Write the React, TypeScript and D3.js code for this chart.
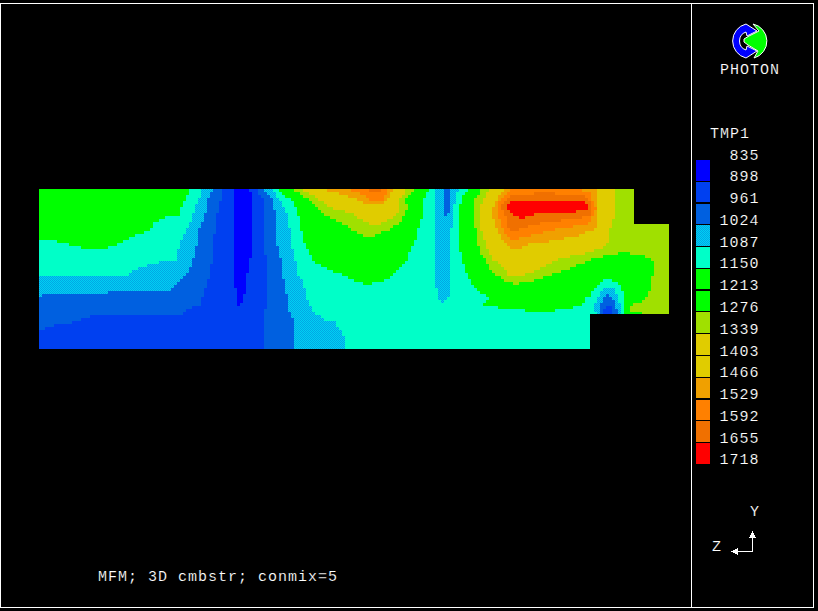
import React from "react";
import * as d3 from "d3";

const legendLevels = [835, 898, 961, 1024, 1087, 1150, 1213, 1276, 1339, 1403, 1466, 1529, 1592, 1655, 1718];
const bandColors = ["#0000ff", "#0040f0", "#0060e0", "url(#dither)", "#00ffc8", "#00ff00", "#00ff00", "#a0e000", "#e0cc00", "#e0cc00", "#f0a000", "#ff8000", "#f07000", "#ff0000"];

type Knot = [number, number];
// Temperature profiles along the chamber: [axial position, temperature]
const row189: Knot[] = [[39,1200],[195,1150],[203,1087],[213,1024],[222,961],[233,898],[245,850],[250,898],[258,961],[264,1024],[273,1087],[278,1150],[292,1276],[301,1339],[323,1466],[345,1529],[368,1592],[375,1625],[383,1592],[388,1529],[393,1466],[407,1339],[415,1276],[429,1150],[435,1087],[443,1024],[447,1000],[451,1024],[459,1087],[468,1150],[481,1276],[490,1339],[505,1466],[512,1529],[545,1575],[576,1529],[596,1466],[614,1339],[634,1300],[669,1300]];
const row200: Knot[] = [[39,1200],[187,1150],[198,1087],[208,1024],[221,961],[233,898],[243,850],[253,898],[263,961],[273,1024],[280,1087],[292,1150],[310,1276],[318,1339],[358,1466],[370,1529],[376,1545],[383,1529],[387,1466],[400,1339],[406,1276],[424,1150],[435,1087],[443,1024],[447,1000],[451,1024],[455,1087],[462,1150],[473,1276],[483,1339],[497,1466],[501,1529],[505,1592],[510,1640],[583,1640],[590,1592],[592,1529],[598,1466],[614,1339],[634,1300],[669,1300]];
const row207: Knot[] = [[39,1200],[184,1150],[196,1087],[207,1024],[219,961],[233,898],[243,850],[253,898],[264,961],[274,1024],[284,1087],[295,1150],[315,1276],[330,1339],[375,1440],[400,1339],[407,1276],[424,1150],[435,1087],[444,1024],[447,1000],[450,1024],[454,1087],[460,1150],[473,1276],[480,1339],[493,1466],[497,1529],[500,1592],[506,1655],[515,1700],[585,1700],[590,1655],[592,1592],[596,1529],[598,1466],[614,1339],[634,1300],[669,1300]];
const row215: Knot[] = [[39,1200],[180,1150],[193,1087],[205,1024],[217,961],[233,898],[243,850],[253,898],[264,961],[275,1024],[287,1087],[298,1150],[325,1276],[355,1339],[378,1410],[397,1339],[405,1276],[422,1150],[435,1087],[445,1024],[446.5,1015],[448,1024],[453,1087],[459,1150],[473,1276],[479,1339],[492,1466],[498,1529],[505,1592],[513,1655],[522,1680],[530,1655],[575,1625],[590,1592],[593,1529],[598,1466],[614,1339],[634,1300],[669,1300]];
const row230: Knot[] = [[39,1200],[150,1150],[187,1087],[198,1024],[215,961],[233,898],[243,850],[253,898],[264,961],[275,1024],[290,1087],[301,1150],[353,1276],[372,1310],[388,1276],[418,1150],[435,1087],[443,1050],[451,1087],[459,1150],[476,1276],[481,1339],[498,1466],[503,1529],[509,1592],[513,1600],[517,1592],[553,1529],[595,1466],[608,1339],[634,1300],[669,1300]];
const row245: Knot[] = [[39,1120],[69,1150],[93,1170],[117,1150],[150,1130],[180,1087],[197,1024],[213,961],[233,898],[243,860],[253,898],[264,961],[277,1024],[292,1087],[305,1150],[360,1250],[413,1150],[435,1087],[443,1050],[451,1087],[459,1150],[478,1276],[486,1339],[507,1466],[515,1500],[525,1466],[580,1420],[607,1339],[640,1310],[669,1310]];
const row260: Knot[] = [[39,1100],[120,1110],[177,1087],[193,1024],[212,961],[233,898],[243,870],[250,898],[267,961],[281,1024],[295,1087],[312,1150],[360,1250],[407,1150],[435,1087],[443,1050],[451,1087],[462,1150],[485,1276],[493,1339],[530,1420],[557,1339],[590,1276],[620,1230],[653,1276],[669,1320]];
const row275: Knot[] = [[39,1092],[127,1087],[187,1024],[209,961],[233,898],[243,880],[247,898],[267,961],[283,1024],[298,1087],[345,1150],[368,1190],[392,1150],[420,1110],[435,1087],[443,1050],[451,1087],[468,1150],[497,1276],[507,1339],[515,1350],[523,1339],[550,1276],[598,1200],[605,1170],[612,1200],[622,1225],[653,1276],[669,1320]];
const row290: Knot[] = [[39,1060],[172,1024],[205,961],[236,898],[243,880],[247,898],[267,961],[285,1024],[305,1087],[335,1120],[400,1130],[438,1087],[444,1050],[450,1087],[478,1150],[515,1230],[595,1150],[603,1087],[609,1060],[615,1087],[622,1150],[635,1220],[650,1276],[669,1330]];
const row297: Knot[] = [[39,1015],[202,961],[238,898],[241,885],[243,898],[267,961],[287,1024],[307,1087],[340,1120],[400,1125],[438,1087],[443,1060],[448,1087],[488,1150],[540,1190],[590,1150],[598,1087],[604,1024],[607,1010],[610,1024],[617,1087],[623,1150],[635,1230],[647,1276],[669,1330]];
const row305: Knot[] = [[39,995],[200,961],[240,895],[267,961],[287,1024],[308,1087],[340,1110],[400,1120],[443,1095],[483,1150],[540,1175],[583,1150],[595,1087],[600,1024],[603,985],[608,970],[613,985],[616,1024],[620,1087],[625,1150],[631,1276],[669,1320]];
const row313: Knot[] = [[39,992],[93,968],[178,965],[185,961],[230,930],[264,961],[290,1024],[313,1087],[400,1115],[500,1135],[540,1145],[570,1140],[590,1110],[596,1087],[600,1024],[603,961],[607,898],[608,880],[609,898],[613,961],[617,1024],[620,1087],[625,1150],[631,1276],[669,1320]];
const row320: Knot[] = [[39,985],[80,961],[93,952],[178,948],[240,935],[263,950],[264,961],[293,1024],[323,1087],[590,1125],[669,1125]];
const row330: Knot[] = [[39,965],[42,961],[60,945],[150,940],[263,955],[264,961],[295,1024],[338,1087],[590,1125],[669,1125]];
const row349: Knot[] = [[39,935],[263,950],[264,961],[295,1024],[345,1087],[590,1125],[669,1125]];

const rowPositions = [189, 200, 207, 215, 230, 245, 260, 275, 290, 297, 305, 313, 320, 330, 349];
const rowProfiles = [row189, row200, row207, row215, row230, row245, row260, row275, row290, row297, row305, row313, row320, row330, row349];

const xDomain: [number, number] = [39, 669];
const yDomain: [number, number] = [189, 349];
// Chamber outline in the same axial / vertical units
const chamberOutline: Knot[] = [[39,189],[634,189],[634,224],[669,224],[669,314],[590,314],[590,349],[39,349]];

const W = 818, H = 611;
const CELL = 3;
const x = d3.scaleLinear().domain(xDomain).range([39, 669]);
const y = d3.scaleLinear().domain(yDomain).range([189, 349]);
const band = d3.scaleThreshold<number, number>()
  .domain(legendLevels.slice(1, -1))
  .range(d3.range(bandColors.length));

function evalProfile(p: Knot[], v: number) {
  const i = Math.min(p.length - 2, Math.max(0, d3.bisector((d: Knot) => d[0]).right(p, v) - 1));
  const [x0, t0] = p[i], [x1, t1] = p[i + 1];
  return t0 + ((t1 - t0) * (v - x0)) / (x1 - x0);
}
function field(vx: number, vy: number) {
  const j = Math.min(rowPositions.length - 2, Math.max(0, d3.bisectRight(rowPositions, vy) - 1));
  const f = (vy - rowPositions[j]) / (rowPositions[j + 1] - rowPositions[j]);
  return evalProfile(rowProfiles[j], vx) * (1 - f) + evalProfile(rowProfiles[j + 1], vx) * f;
}

// horizontal runs of equal colour on the solver's display raster
const runs: { x: number; y: number; w: number; c: string }[] = [];
for (let py = 189; py < 349; py += CELL) {
  let start = 39;
  let cur = "";
  for (let px = 39; px <= 669; px += CELL) {
    const c = px < 669 ? bandColors[band(field(x.invert(px + CELL / 2), y.invert(py + CELL / 2)))] : "";
    if (c !== cur) {
      if (cur) runs.push({ x: start, y: py, w: px - start, c: cur });
      start = px;
      cur = c;
    }
  }
}

const mono = "'Liberation Mono', monospace";
const txt = { fill: "#fff", stroke: "#000", strokeWidth: 0.15, fontFamily: mono, fontSize: 15, letterSpacing: 1 } as const;
const legendStep = 21.78;

export default function App() {
  return (
    <svg width={W} height={H} style={{ position: "fixed", left: 0, top: 0, background: "#000" }}>
      <defs>
        <pattern id="dither" width={2} height={2} patternUnits="userSpaceOnUse">
          <rect width={2} height={2} fill="#00d0f4" />
          <rect width={1} height={1} fill="#00a8e4" />
          <rect x={1} y={1} width={1} height={1} fill="#00a8e4" />
        </pattern>
        <clipPath id="chamber">
          <polygon points={chamberOutline.map(([a, b]) => `${x(a)},${y(b)}`).join(" ")} />
        </clipPath>
      </defs>

      <g fill="none" stroke="#fff" strokeWidth={1} shapeRendering="crispEdges">
        <path d="M0.5 3.5H813.5V607.5H0.5Z" />
        <path d="M691.5 3.5V607.5" />
      </g>

      <g clipPath="url(#chamber)" shapeRendering="crispEdges">
        {runs.map((r, i) => (
          <rect key={i} x={r.x} y={r.y} width={r.w} height={CELL} fill={r.c} />
        ))}
      </g>

      {/* logo */}
      <path d="M753 24 A17.5 17.5 0 0 1 754 58 L758 51 L748 45 L744 42 L744 39 L749 36 L759 31 Z" fill="#00ff00" stroke="#fff" strokeWidth={1} />
      <path d="M746 24 L757 31 L747 36 L746 32 A9.5 9.5 0 0 0 746 50 L747 46 L757 51 L746 58 A17.5 17.5 0 0 1 746 24 Z" fill="#0000ff" stroke="#fff" strokeWidth={1} />
      <text x={720} y={74} {...txt}>PHOTON</text>

      <text x={710} y={138} {...txt}>TMP1</text>
      {bandColors.map((c, i) => (
        <rect key={i} x={696} y={160 + i * legendStep} width={13.5} height={20.5} fill={c} shapeRendering="crispEdges" />
      ))}
      {legendLevels.map((l, i) => (
        <text key={l} x={719.5 + (4 - String(l).length) * 10} y={159.5 + i * legendStep} {...txt}>{l}</text>
      ))}

      <text x={750} y={516} {...txt}>Y</text>
      <text x={712} y={551} {...txt}>Z</text>
      <g stroke="#fff" strokeWidth={1} fill="#fff" shapeRendering="crispEdges">
        <path d="M752.5 535V551.5H735" fill="none" />
        <path d="M752.5 532L750 537H755Z" />
        <path d="M732 551.5L737 549V554Z" />
      </g>

      <text x={98} y={581} {...txt}>MFM; 3D cmbstr; conmix=5</text>
    </svg>
  );
}
